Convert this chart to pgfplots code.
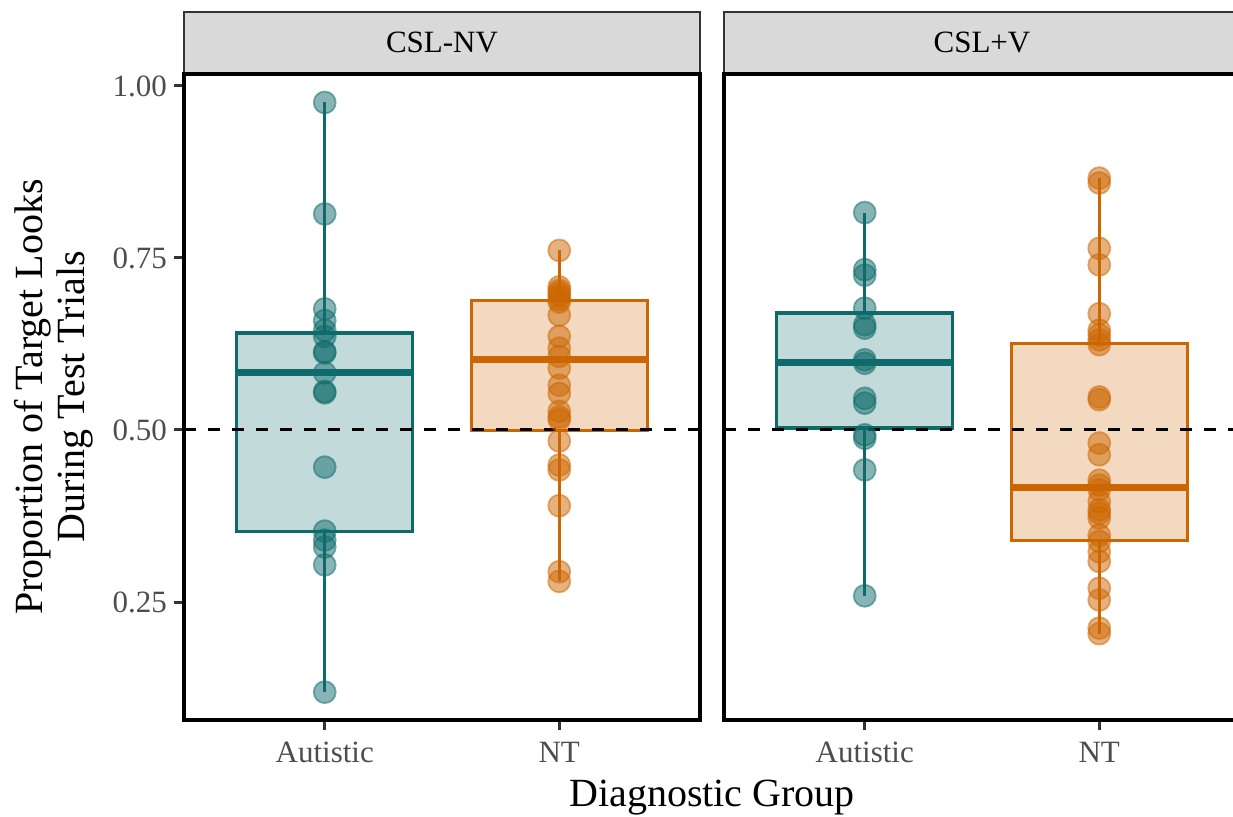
\documentclass[border=0pt]{standalone}
\usepackage{fontspec}
\setmainfont{Liberation Serif}
\usepackage{pgfplots}
\pgfplotsset{compat=1.18}
\usepgfplotslibrary{statistics}
\definecolor{teal1}{HTML}{0F6B6B}
\definecolor{orng}{HTML}{CC6600}
\definecolor{tickgray}{HTML}{4D4D4D}
\definecolor{stripgray}{HTML}{D9D9D9}
\definecolor{stripline}{HTML}{333333}
\pgfplotsset{
  panel/.style={
    scale only axis, width=258pt, height=323pt,
    xmin=0.4, xmax=2.6, ymin=0.0785, ymax=1.0174,
    xtick={1,2}, xticklabels={Autistic,NT},
    axis line style={draw=none},
    extra description/.code={\draw[black, line width=1.65pt] (0,0) rectangle (1,1);},
    tick align=outside, major tick length=5pt,
    tick style={stripline, line width=1.5pt},
    xtick pos=left, ytick pos=left,
    ticklabel style={font=\fontsize{15.5}{18}\selectfont, text=tickgray},
    xticklabel style={yshift=-2.5pt},
    every axis title/.style={at={(0.5,1)}, anchor=south, draw=stripline, line width=0.9pt,
      fill=stripgray, minimum width=258pt, minimum height=30.5pt, inner sep=0pt,
      font=\fontsize{15.5}{18}\selectfont, text=black},
    boxplot/draw direction=y,
    clip=false,
  },
  tealpts/.style={only marks, mark=*, mark size=5.5pt,
    mark options={fill=teal1, draw=teal1, fill opacity=0.5, draw opacity=0.5, line width=0.9pt}},
  orngpts/.style={only marks, mark=*, mark size=5.5pt,
    mark options={fill=orng, draw=orng, fill opacity=0.5, draw opacity=0.5, line width=0.9pt}},
  tealbox/.style={teal1, line width=1.6pt, fill=teal1, fill opacity=0.25,
    boxplot/every median/.style={line width=3.4pt}},
  orngbox/.style={orng, line width=1.6pt, fill=orng, fill opacity=0.25,
    boxplot/every median/.style={line width=3.4pt}},
  hline/.style={black, line width=1.5pt, dash pattern=on 6pt off 6pt},
}
\begin{document}
\begin{tikzpicture}
\begin{axis}[panel, at={(92pt,48pt)}, anchor=south west, title={CSL-NV},
  ytick={0.25,0.5,0.75,1}, yticklabels={0.25,0.50,0.75,1.00}]
\addplot[tealbox, boxplot prepared={draw position=1, median=0.583, lower quartile=0.352,
  upper quartile=0.641, lower whisker=0.119, upper whisker=0.976, box extend=0.75, whisker extend=0}] coordinates {};
\addplot[orngbox, boxplot prepared={draw position=2, median=0.603, lower quartile=0.499,
  upper quartile=0.688, lower whisker=0.280, upper whisker=0.761, box extend=0.75, whisker extend=0}] coordinates {};
\addplot[tealpts] coordinates {
 (1,0.976) (1,0.814) (1,0.676) (1,0.659) (1,0.645) (1,0.636) (1,0.614) (1,0.612)
 (1,0.583) (1,0.556) (1,0.554) (1,0.446) (1,0.353) (1,0.340) (1,0.330) (1,0.304) (1,0.119)};
\addplot[orngpts] coordinates {
 (2,0.761) (2,0.708) (2,0.703) (2,0.699) (2,0.695) (2,0.690) (2,0.686) (2,0.667)
 (2,0.636) (2,0.619) (2,0.607) (2,0.590) (2,0.565) (2,0.553) (2,0.527) (2,0.519)
 (2,0.515) (2,0.484) (2,0.449) (2,0.442) (2,0.390) (2,0.294) (2,0.280)};
\addplot[hline] coordinates {(0.4,0.5) (2.6,0.5)};
\end{axis}
\begin{axis}[panel, at={(362pt,48pt)}, anchor=south west, title={CSL+V}, ytick=\empty]
\addplot[tealbox, boxplot prepared={draw position=1, median=0.598, lower quartile=0.503,
  upper quartile=0.670, lower whisker=0.259, upper whisker=0.816, box extend=0.75, whisker extend=0}] coordinates {};
\addplot[orngbox, boxplot prepared={draw position=2, median=0.416, lower quartile=0.339,
  upper quartile=0.626, lower whisker=0.204, upper whisker=0.866, box extend=0.75, whisker extend=0}] coordinates {};
\addplot[tealpts] coordinates {
 (1,0.816) (1,0.733) (1,0.725) (1,0.677) (1,0.653) (1,0.648) (1,0.602) (1,0.597)
 (1,0.546) (1,0.539) (1,0.493) (1,0.488) (1,0.442) (1,0.259)};
\addplot[orngpts] coordinates {
 (2,0.866) (2,0.859) (2,0.764) (2,0.740) (2,0.669) (2,0.645) (2,0.638) (2,0.631)
 (2,0.624) (2,0.548) (2,0.544) (2,0.481) (2,0.464) (2,0.427) (2,0.420) (2,0.413)
 (2,0.396) (2,0.384) (2,0.379) (2,0.372) (2,0.347) (2,0.338) (2,0.323) (2,0.309)
 (2,0.270) (2,0.253) (2,0.212) (2,0.204)};
\addplot[hline] coordinates {(0.4,0.5) (2.6,0.5)};
\end{axis}
\node[rotate=90, align=center, font=\fontsize{20}{21}\selectfont] at (26.75pt,209.5pt)
  {Proportion of Target Looks\\During Test Trials};
\node[anchor=base, font=\fontsize{20}{21}\selectfont] at (356pt,5pt) {Diagnostic Group};
\pgfresetboundingbox
\path[use as bounding box] (0,0) rectangle (616.5pt,408pt);
\end{tikzpicture}
\end{document}
